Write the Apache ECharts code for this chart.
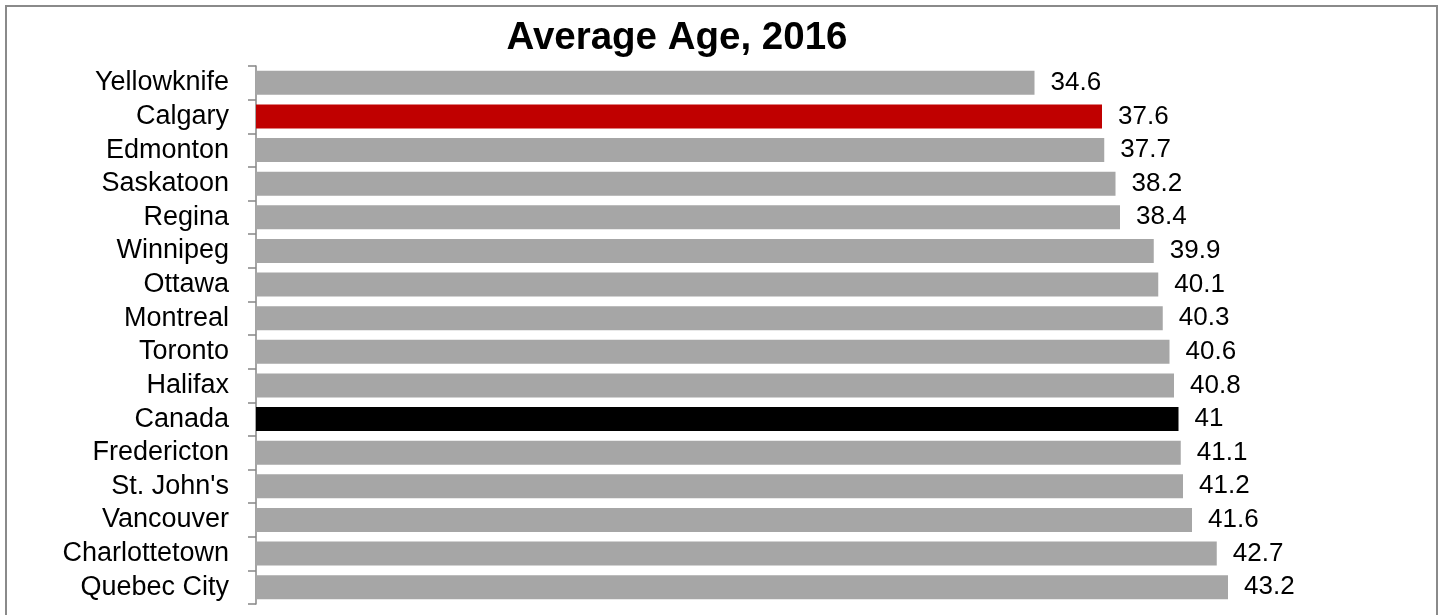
<!DOCTYPE html>
<html>
<head>
<meta charset="utf-8">
<style>
  html, body { margin: 0; padding: 0; background: #fff; }
  #chart { width: 1443px; height: 615px; }
</style>
<script src="https://cdn.jsdelivr.net/npm/echarts@6/dist/echarts.min.js"></script>
</head>
<body>
<div id="chart"></div>
<script>
  const cities = ['Yellowknife', 'Calgary', 'Edmonton', 'Saskatoon', 'Regina', 'Winnipeg', 'Ottawa', 'Montreal',
    'Toronto', 'Halifax', 'Canada', 'Fredericton', "St. John's", 'Vancouver', 'Charlottetown', 'Quebec City'];
  const avgAge = [34.6, 37.6, 37.7, 38.2, 38.4, 39.9, 40.1, 40.3, 40.6, 40.8, 41, 41.1, 41.2, 41.6, 42.7, 43.2];
  const highlight = { Calgary: '#c00000', Canada: '#000000' };

  const chart = echarts.init(document.getElementById('chart'));
  const font = 'Arial, "Liberation Sans", sans-serif';

  chart.setOption({
    animation: false,
    title: {
      text: 'Average Age, 2016',
      left: 672,
      top: 14,
      textAlign: 'center',
      textStyle: { fontFamily: font, fontSize: 38.5, fontWeight: 'bold', color: '#000' }
    },
    graphic: [{
      type: 'rect',
      shape: { x: 6, y: 6, width: 1431, height: 620 },
      style: { fill: 'none', stroke: '#8a8a8a', lineWidth: 2 },
      silent: true
    }],
    grid: { left: 256, top: 66, width: 1125, height: 538 },
    xAxis: {
      type: 'value',
      min: 0,
      max: 50,
      show: false
    },
    yAxis: {
      type: 'category',
      data: cities,
      inverse: true,
      axisLine: { lineStyle: { color: '#868686', width: 1.5 } },
      axisTick: { show: true, length: 8, lineStyle: { color: '#868686', width: 1.5 } },
      axisLabel: { interval: 0, margin: 27, fontFamily: font, fontSize: 27, color: '#000' }
    },
    series: [{
      type: 'bar',
      barWidth: 24,
      data: cities.map((c, i) => ({
        value: avgAge[i],
        itemStyle: { color: highlight[c] || '#a6a6a6' }
      })),
      label: {
        show: true,
        position: 'right',
        distance: 16,
        fontFamily: font,
        fontSize: 26,
        color: '#000'
      }
    }]
  });
</script>
</body>
</html>
